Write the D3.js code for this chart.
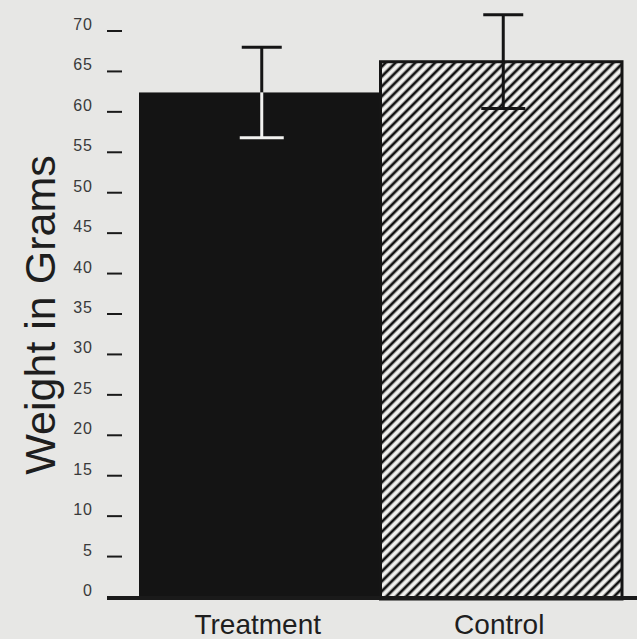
<!DOCTYPE html>
<html lang="en">
<head>
  <meta charset="UTF-8">
  <title>Weight in Grams</title>
  <script src="https://d3js.org/d3.v7.min.js"></script>
  <style>
    body {
      margin: 0;
      background: #e7e7e5;
    }
    svg {
      display: block;
      font-family: "Liberation Sans", Arial, Helvetica, sans-serif;
    }
  </style>
</head>
<body>
<svg width="637" height="639"></svg>
<script>
const groups = ["Treatment", "Control"];
const means = [62.4, 66.2];
const errors = [5.6, 5.8];
const yTicks = [0, 5, 10, 15, 20, 25, 30, 35, 40, 45, 50, 55, 60, 65, 70];

const svg = d3.select("svg");

const y = d3.scaleLinear().domain([0, 70]).range([597, 31]);
const x = d3.scaleBand().domain(groups).range([139, 622]).padding(0);

// hatch for the control bar
const defs = svg.append("defs");
defs.append("pattern")
    .attr("id", "hatch")
    .attr("patternUnits", "userSpaceOnUse")
    .attr("width", 7)
    .attr("height", 7)
    .attr("patternTransform", "rotate(45)")
  .call(p => {
    p.append("rect").attr("width", 7).attr("height", 7).attr("fill", "#f1f1ef");
    p.append("line")
      .attr("x1", 2).attr("x2", 2).attr("y1", 0).attr("y2", 7)
      .attr("stroke", "#111").attr("stroke-width", 2.8);
  });

// y axis ticks (short dashes) and labels
const yAxis = svg.append("g");
yAxis.selectAll("line")
  .data(yTicks.filter(d => d > 0))
  .enter().append("line")
    .attr("x1", 107).attr("x2", 122)
    .attr("y1", d => y(d)).attr("y2", d => y(d))
    .attr("stroke", "#1a1a1a")
    .attr("stroke-width", 2);

yAxis.selectAll("text")
  .data(yTicks)
  .enter().append("text")
    .attr("x", 93)
    .attr("y", d => y(d) - 1)
    .attr("text-anchor", "end")
    .attr("font-size", 16)
    .attr("letter-spacing", 1)
    .attr("fill", "#3a3a3a")
    .text(d => d);

// bars
svg.selectAll(".bar")
  .data(groups)
  .enter().append("rect")
    .attr("class", "bar")
    .attr("x", d => x(d))
    .attr("y", (d, i) => y(means[i]))
    .attr("width", x.bandwidth())
    .attr("height", (d, i) => y(0) - y(means[i]) + 2)
    .attr("fill", (d, i) => i === 0 ? "#141414" : "url(#hatch)")
    .attr("stroke", (d, i) => i === 0 ? "none" : "#151515")
    .attr("stroke-width", 3);

// baseline
svg.append("line")
  .attr("x1", 107).attr("x2", 637)
  .attr("y1", y(0) + 1).attr("y2", y(0) + 1)
  .attr("stroke", "#1a1a1a")
  .attr("stroke-width", 4);

// error bars
const err = svg.selectAll(".err")
  .data(groups)
  .enter().append("g")
    .attr("class", "err")
    .attr("transform", d => `translate(${x(d) + x.bandwidth() / 2 + 2},0)`);

err.append("line")
  .attr("y1", (d, i) => y(means[i]))
  .attr("y2", (d, i) => y(means[i] + errors[i]))
  .attr("stroke", "#151515").attr("stroke-width", 3);
err.append("line")
  .attr("x1", -20).attr("x2", 20)
  .attr("y1", (d, i) => y(means[i] + errors[i]))
  .attr("y2", (d, i) => y(means[i] + errors[i]))
  .attr("stroke", "#151515").attr("stroke-width", 3);
err.append("line")
  .attr("y1", (d, i) => y(means[i]))
  .attr("y2", (d, i) => y(means[i] - errors[i]))
  .attr("stroke", (d, i) => i === 0 ? "#f2f2f0" : "#151515")
  .attr("stroke-width", 3);
err.append("line")
  .attr("x1", -22).attr("x2", 22)
  .attr("y1", (d, i) => y(means[i] - errors[i]))
  .attr("y2", (d, i) => y(means[i] - errors[i]))
  .attr("stroke", (d, i) => i === 0 ? "#f2f2f0" : "#151515")
  .attr("stroke-width", 3);

// category labels
svg.selectAll(".cat")
  .data(groups)
  .enter().append("text")
    .attr("class", "cat")
    .attr("x", d => x(d) + x.bandwidth() / 2 - 2)
    .attr("y", 634)
    .attr("text-anchor", "middle")
    .attr("font-size", 28)
    .attr("fill", "#1e1e1e")
    .text(d => d);

// y axis title
svg.append("text")
  .attr("transform", "translate(55,315) rotate(-90)")
  .attr("text-anchor", "middle")
  .attr("font-size", 43)
  .attr("fill", "#1e1e1e")
  .text("Weight in Grams");
</script>
</body>
</html>
